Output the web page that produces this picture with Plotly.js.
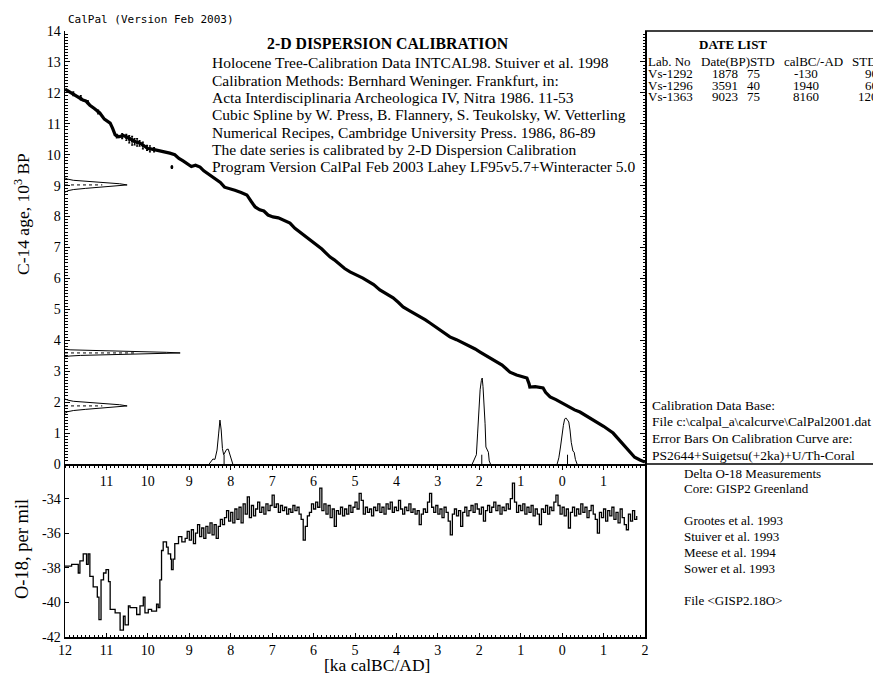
<!DOCTYPE html>
<html><head><meta charset="utf-8">
<script src="https://cdn.plot.ly/plotly-3.0.1.min.js"></script>
<style>html,body{margin:0;padding:0;background:#fff}#chart{width:873px;height:679px}</style>
</head><body><div id="chart"></div>
<script>
// ---- Calibration curve (INTCAL98), x = ka calBC (negative = AD), y = C-14 age ka BP
const calAge = [12.00,11.93,11.85,11.75,11.65,11.57,11.50,11.40,11.30,11.22,11.16,11.05,10.95,10.91,10.85,10.79,10.70,10.60,10.50,10.40,10.30,10.19,10.10,10.00,9.90,9.78,9.65,9.55,9.47,9.35,9.25,9.15,9.06,8.95,8.85,8.74,8.65,8.55,8.43,8.35,8.25,8.15,8.09,8.02,7.90,7.75,7.61,7.50,7.41,7.30,7.20,7.10,6.98,6.85,6.75,6.65,6.57,6.45,6.35,6.26,6.15,6.05,5.92,5.80,5.70,5.60,5.50,5.36,5.25,5.12,5.00,4.90,4.81,4.70,4.55,4.40,4.25,4.08,3.95,3.84,3.70,3.55,3.43,3.30,3.19,3.05,2.95,2.88,2.71,2.55,2.39,2.25,2.10,1.98,1.85,1.70,1.57,1.45,1.35,1.26,1.10,0.95,0.85,0.80,0.78,0.65,0.50,0.46,0.40,0.29,0.15,0.00,-0.19,-0.30,-0.43,-0.60,-0.80,-1.00,-1.23,-1.40,-1.55,-1.64,-1.75,-1.88,-1.95,-2.00];
const calC14 = [12.12,12.06,12.00,11.92,11.85,11.77,11.74,11.60,11.50,11.40,11.35,11.15,11.05,11.02,10.85,10.64,10.58,10.62,10.57,10.48,10.42,10.38,10.30,10.20,10.18,10.15,10.10,10.08,10.05,10.00,9.88,9.80,9.73,9.62,9.66,9.60,9.48,9.38,9.28,9.20,9.10,8.95,8.92,8.90,8.85,8.78,8.70,8.48,8.31,8.22,8.18,8.05,7.99,7.96,7.90,7.84,7.79,7.62,7.52,7.40,7.30,7.20,7.08,6.95,6.82,6.69,6.60,6.43,6.32,6.21,6.14,6.06,6.01,5.92,5.80,5.63,5.50,5.37,5.22,5.08,4.97,4.86,4.75,4.66,4.56,4.43,4.35,4.27,4.11,4.02,3.91,3.84,3.72,3.62,3.52,3.40,3.30,3.20,3.08,2.97,2.88,2.82,2.78,2.60,2.49,2.50,2.47,2.46,2.32,2.17,2.08,1.97,1.81,1.75,1.68,1.55,1.40,1.22,1.00,0.75,0.50,0.36,0.22,0.13,0.08,0.06];
// error bars on the calibration curve (older, sparser part)
const errAge = [11.80,11.62,11.45,11.20,10.75,10.62,10.52,10.45,10.38,10.32,10.26,10.20,10.12,10.02,9.95,9.85,9.42];
const errC14 = [11.97,11.84,11.70,11.38,10.60,10.60,10.56,10.50,10.45,10.42,10.40,10.37,10.30,10.22,10.19,10.16,9.60];
const errSd  = [0.06,0.07,0.05,0.06,0.06,0.08,0.10,0.12,0.14,0.10,0.12,0.09,0.11,0.08,0.10,0.07,0.04];

// ---- Date list
const labNo   = ['Vs-1292','Vs-1296','Vs-1363'];
const dateBP  = [1878, 3591, 9023];
const dateStd = [75, 40, 75];
const calBC   = [-130, 1940, 8160];
const calStd  = [90, 60, 120];

// ---- C-14 date distributions (drawn against the y axis), y in ka BP, height in ka
const d1Y = [1.653,1.691,1.728,1.766,1.803,1.841,1.878,1.916,1.953,1.991,2.028,2.066,2.103];
const d1H = [0.017,0.066,0.20,0.49,0.91,1.32,1.5,1.32,0.91,0.49,0.20,0.066,0.017];
const d2Y = [3.471,3.491,3.511,3.531,3.551,3.571,3.591,3.611,3.631,3.651,3.671,3.691,3.711];
const d2H = [0.031,0.122,0.376,0.90,1.69,2.45,2.78,2.45,1.69,0.90,0.376,0.122,0.031];
const d3Y = [8.798,8.836,8.873,8.911,8.948,8.986,9.023,9.061,9.098,9.136,9.173,9.211,9.248];
const d3H = [0.017,0.066,0.20,0.49,0.91,1.32,1.5,1.32,0.91,0.49,0.20,0.066,0.017];

// ---- Calibrated distributions (drawn against the x axis)
const c1X = [0.12,0.08,0.04,0.01,-0.03,-0.06,-0.09,-0.13,-0.16,-0.19,-0.22,-0.26,-0.29,-0.32,-0.36];
const c1H = [0,0.2,0.55,0.9,1.25,1.45,1.49,1.42,1.36,1.1,0.7,0.42,0.38,0.15,0];
const c2X = [2.17,2.13,2.10,2.07,2.04,2.01,1.98,1.95,1.93,1.91,1.88,1.86,1.84,1.81,1.78,1.76,1.73];
const c2H = [0,0.12,0.2,0.3,1.0,1.8,2.4,2.7,2.78,2.5,1.9,1.3,0.55,0.45,0.38,0.1,0];
const c3X = [8.52,8.47,8.43,8.38,8.33,8.29,8.26,8.23,8.20,8.17,8.14,8.10,8.06,8.03,7.99,7.95];
const c3H = [0,0.08,0.16,0.15,0.45,1.0,1.42,1.1,0.5,0.3,0.38,0.47,0.48,0.35,0.1,0];

// ---- GISP2 delta O-18 (per mil) vs ka calBC
const o18Age = [12.00,11.84,11.68,11.64,11.56,11.48,11.44,11.40,11.32,11.22,11.18,11.13,11.07,11.01,10.95,10.91,10.79,10.67,10.59,10.55,10.47,10.43,10.27,10.19,10.11,10.07,9.99,9.91,9.79,9.75,9.71,9.67,9.63,9.55,9.51,9.45,9.43,9.39,9.35,9.26,9.18,9.10,
9.05,9.00,8.95,8.90,8.85,8.80,8.75,8.70,8.65,8.60,8.55,8.50,8.45,8.40,8.35,8.30,8.25,8.20,8.15,8.10,8.05,8.00,7.95,7.90,7.85,7.80,7.75,7.70,7.65,7.60,7.55,7.50,7.45,7.40,7.35,7.30,7.25,7.20,7.15,7.10,7.05,7.00,6.95,6.90,6.85,6.80,6.75,6.70,6.65,6.60,6.55,6.50,6.45,6.40,6.35,6.30,6.25,6.20,6.15,6.10,6.05,6.00,
5.95,5.90,5.85,5.80,5.75,5.70,5.65,5.60,5.55,5.50,5.45,5.40,5.35,5.30,5.25,5.20,5.15,5.10,5.05,5.00,4.95,4.90,4.85,4.80,4.75,4.70,4.65,4.60,4.55,4.50,4.45,4.40,4.35,4.30,4.25,4.20,4.15,4.10,4.05,4.00,3.95,3.90,3.85,3.80,3.75,3.70,3.65,3.60,3.55,3.50,3.45,3.40,3.35,3.30,3.25,3.20,3.15,3.10,3.05,3.00,
2.95,2.90,2.85,2.80,2.75,2.70,2.65,2.60,2.55,2.50,2.45,2.40,2.35,2.30,2.25,2.20,2.15,2.10,2.05,2.00,1.95,1.90,1.85,1.80,1.75,1.70,1.65,1.60,1.55,1.50,1.45,1.40,1.35,1.30,1.25,1.20,1.15,1.10,1.05,1.00,0.95,0.90,0.85,0.80,0.75,0.70,0.65,0.60,0.55,0.50,0.45,0.40,0.35,0.30,0.25,0.20,0.15,0.10,0.05,0.00,
-0.05,-0.10,-0.15,-0.20,-0.25,-0.30,-0.35,-0.40,-0.45,-0.50,-0.55,-0.60,-0.65,-0.70,-0.75,-0.80,-0.85,-0.90,-0.95,-1.00,-1.05,-1.10,-1.15,-1.20,-1.25,-1.30,-1.35,-1.40,-1.45,-1.50,-1.55,-1.60,-1.65,-1.70,-1.75,-1.80];
const o18Val = [-37.9,-37.8,-38.3,-37.6,-37.2,-37.8,-37.2,-38.5,-39.1,-39.7,-41.0,-38.7,-38.3,-38.1,-38.8,-40.4,-40.6,-41.6,-40.8,-41.3,-40.2,-40.3,-40.7,-40.2,-39.7,-40.6,-40.4,-40.5,-40.1,-40.3,-38.7,-37.0,-36.5,-36.8,-37.2,-37.5,-38.1,-37.5,-36.6,-36.2,-36.5,-36.3,
-35.9,-36.4,-35.8,-36.6,-36.0,-35.5,-36.2,-35.7,-36.3,-35.6,-36.0,-35.4,-36.1,-35.5,-36.3,-35.6,-35.2,-35.5,-35.1,-34.7,-35.3,-34.8,-35.4,-34.6,-35.2,-34.5,-35.4,-34.3,-34.9,-33.9,-35.1,-34.4,-35.0,-34.6,-34.2,-34.8,-34.5,-34.9,-34.3,-34.7,-34.4,-33.8,-34.5,-34.3,-34.8,-34.4,-34.7,-34.5,-34.9,-34.6,-34.8,-34.4,-34.7,-34.5,-34.9,-35.2,-36.4,-35.6,-35.0,-34.8,-34.3,-34.6,
-34.2,-34.5,-33.4,-34.7,-34.3,-34.9,-34.4,-35.1,-34.6,-35.6,-34.7,-34.9,-34.5,-35.0,-34.6,-34.9,-34.4,-34.8,-34.5,-34.2,-34.6,-33.7,-34.1,-34.9,-34.5,-34.8,-34.6,-35.0,-34.5,-34.7,-34.3,-34.8,-34.5,-34.9,-34.3,-34.6,-34.2,-34.8,-34.5,-34.7,-34.1,-34.6,-34.9,-34.5,-34.7,-34.3,-34.8,-34.6,-34.9,-34.7,-35.5,-34.9,-34.6,-34.8,-34.2,-33.7,-34.5,-34.8,-34.4,-34.9,
-34.6,-35.1,-34.5,-34.8,-35.3,-36.1,-34.9,-34.6,-35.0,-34.7,-35.6,-34.8,-34.5,-35.0,-34.7,-34.4,-34.8,-34.3,-34.6,-34.9,-34.5,-35.3,-34.7,-34.4,-34.8,-34.5,-34.2,-34.7,-34.4,-34.9,-34.5,-34.7,-34.3,-34.6,-34.0,-33.1,-34.2,-34.8,-34.4,-34.7,-34.3,-34.9,-34.5,-34.8,-34.4,-35.0,-34.6,-34.9,-35.5,-34.6,-34.8,-34.4,-34.9,-34.5,-34.7,-34.2,-33.8,-34.4,-34.9,-34.5,
-35.0,-34.6,-35.7,-34.8,-34.5,-35.0,-34.6,-34.9,-34.3,-34.8,-34.5,-35.1,-34.7,-34.4,-34.9,-35.2,-36.0,-34.8,-35.1,-34.6,-35.3,-34.7,-35.0,-34.5,-35.2,-34.8,-35.4,-34.6,-35.1,-35.5,-35.8,-34.9,-35.3,-34.7,-35.2,-35.0];

// ---- Axis tick labels
const xTickVals = [12,11,10,9,8,7,6,5,4,3,2,1,0,-1,-2];
const xTickText = ['12','11','10','9','8','7','6','5','4','3','2','1','0','1','2'];
const topXTickVals = [11,10,9,8,7,6,5,4,3,2,1,0,-1];
const topXTickText = ['11','10','9','8','7','6','5','4','3','2','1','0','1'];
const c14TickVals = [0,1,2,3,4,5,6,7,8,9,10,11,12,13,14];
const o18TickVals = [-42,-40,-38,-36,-34];
const o18TickText = ['-42','-40','-38','-36','-34'];

// ---- Texts
const infoTitle = '2-D DISPERSION CALIBRATION';
const infoLines = [
 'Holocene Tree-Calibration Data INTCAL98. Stuiver et al. 1998',
 'Calibration Methods: Bernhard Weninger. Frankfurt, in:',
 'Acta Interdisciplinaria Archeologica IV, Nitra 1986. 11-53',
 'Cubic Spline by W. Press, B. Flannery, S. Teukolsky, W. Vetterling',
 'Numerical Recipes, Cambridge University Press. 1986, 86-89',
 'The date series is calibrated by 2-D Dispersion Calibration',
 'Program Version CalPal Feb 2003 Lahey LF95v5.7+Winteracter 5.0'];
const dbLines = ['Calibration Data Base:','File c:\\calpal_a\\calcurve\\CalPal2001.dat','Error Bars On Calibration Curve are:','PS2644+Suigetsu(+2ka)+U/Th-Coral'];
const o18Lines = ['Delta O-18 Measurements','Core: GISP2 Greenland','','Grootes et al. 1993','Stuiver et al. 1993','Meese et al. 1994','Sower et al. 1993','','File &lt;GISP2.18O&gt;'];

// ---------------- build ----------------
const W = 873, H = 679;
const PX = v => v / W, PY = v => 1 - v / H;
const serif = 'Liberation Serif, Times New Roman, serif';
const thin = {color:'#000', width:1};

const traces = [];
traces.push({x:calAge, y:calC14, xaxis:'x', yaxis:'y', mode:'lines', line:{color:'#000', width:3.2}, hoverinfo:'skip'});
traces.push({x:errAge, y:errC14, xaxis:'x', yaxis:'y', mode:'markers', marker:{color:'#000', size:3},
  error_y:{type:'data', array:errSd, visible:true, color:'#000', thickness:1.2, width:1}, hoverinfo:'skip'});
const base = 12; // left edge of x axis (ka calBC)
[[d1Y,d1H],[d2Y,d2H],[d3Y,d3H]].forEach(([ys,hs], i) => {
  traces.push({x:[base].concat(hs.map(h => base - h), [base]), y:[ys[0]].concat(ys, [ys[ys.length-1]]),
    xaxis:'x', yaxis:'y', mode:'lines', line:thin, hoverinfo:'skip'});
  const mu = dateBP[i]/1000, peak = Math.max(...hs);
  traces.push({x:[base, base - 0.6*peak], y:[mu, mu], xaxis:'x', yaxis:'y', mode:'lines', line:{color:'#000', width:1, dash:'dot'}, hoverinfo:'skip'});
});
[[c1X,c1H],[c2X,c2H],[c3X,c3H]].forEach(([xs,hs], i) => {
  traces.push({x:xs, y:hs, xaxis:'x', yaxis:'y', mode:'lines', line:thin, hoverinfo:'skip'});
  const m = calBC[i]/1000;
  traces.push({x:[m, m], y:[0, 0.3], xaxis:'x', yaxis:'y', mode:'lines', line:thin, hoverinfo:'skip'});
});
traces.push({x:o18Age, y:o18Val, xaxis:'x2', yaxis:'y2', mode:'lines', line:{color:'#000', width:1.3, shape:'hv'}, hoverinfo:'skip'});

const dom = [PX(65), PX(645)];
const topDom = [PY(464), PY(31)];
const botDom = [PY(637), PY(464)];
const tickFont = {family:serif, size:14, color:'#000'};

const ann = [];
const A = (text, x, y, opts={}) => ann.push(Object.assign({text, x:PX(x), y:PY(y), xref:'paper', yref:'paper', showarrow:false, xanchor:'left', yanchor:'middle', borderpad:0, font:{family:serif, size:13, color:'#000'}}, opts));
const F = s => ({family:serif, size:s, color:'#000'});
A('CalPal (Version Feb 2003)', 67, 19, {font:{family:'DejaVu Sans Mono, monospace', size:11, color:'#000'}});
A('C-14 age, 10<sup>3</sup> BP', 22, 214, {xanchor:'center', textangle:-90, font:F(17.5)});
A('O-18, per mil', 22, 549, {xanchor:'center', textangle:-90, font:F(18.5)});
A('[ka calBC/AD]', 377, 665, {xanchor:'center', font:F(17.5)});
A('<b>' + infoTitle + '</b>', 388, 44, {xanchor:'center', font:F(15.8)});
infoLines.forEach((t, i) => A(t, 211, 62.7 + i*17.35, {font:F(15.5)}));
const tf = F(13);
A('<b>DATE LIST</b>', 733, 45, {xanchor:'center', font:tf});
A('Lab. No', 647, 61, {font:tf}); A('Date(BP)STD', 700, 61, {font:tf}); A('calBC/-AD', 783, 61, {font:tf}); A('STD', 851, 61, {font:tf});
labNo.forEach((l, i) => {
  const y = 73 + i*12;
  A(l, 647, y, {font:tf});
  A(String(dateBP[i]), 725, y, {xanchor:'center', font:tf});
  A(String(dateStd[i]), 753, y, {xanchor:'center', font:tf});
  A(String(calBC[i]), 806, y, {xanchor:'center', font:tf});
  A(String(calStd[i]), 879, y, {xanchor:'right', font:tf});
});
dbLines.forEach((t, i) => A(t, 651, 405 + i*16.7, {font:F(13.5)}));
o18Lines.forEach((t, i) => { if (t) A(t, 683, 473 + i*15.9, {font:F(13)}); });

const layout = {
  width:W, height:H, margin:{l:0, r:0, t:0, b:0}, paper_bgcolor:'#fff', plot_bgcolor:'#fff', showlegend:false,
  font:{family:serif, color:'#000'},
  xaxis:{domain:dom, anchor:'y', range:[12,-2], tickmode:'array', tickvals:topXTickVals, ticktext:topXTickText,
    ticks:'outside', ticklen:4, tickwidth:1, tickcolor:'#000', showline:true, linewidth:1.5, linecolor:'#000',
    showgrid:false, zeroline:false, tickfont:tickFont,
    minor:{dtick:0.1, tick0:0, ticks:'outside', ticklen:2, tickcolor:'#000', showgrid:false}},
  xaxis3:{domain:dom, anchor:'y', overlaying:'x', side:'top', range:[12,-2], dtick:1, tick0:0, ticks:'inside', ticklen:4,
    tickcolor:'#000', showticklabels:false, showline:true, linewidth:1.5, linecolor:'#000', showgrid:false, zeroline:false,
    minor:{dtick:0.1, tick0:0, ticks:'inside', ticklen:2, tickcolor:'#000', showgrid:false}},
  yaxis:{domain:topDom, anchor:'x', range:[0,14], tickmode:'array', tickvals:c14TickVals, ticks:'inside', ticklen:5, tickcolor:'#000',
    showline:true, linewidth:1.5, linecolor:'#000', mirror:'ticks', showgrid:false, zeroline:false, tickfont:tickFont,
    minor:{dtick:0.1, tick0:0, ticks:'inside', ticklen:2.5, tickcolor:'#000', showgrid:false}},
  xaxis2:{domain:dom, anchor:'y2', range:[12,-2], tickmode:'array', tickvals:xTickVals, ticktext:xTickText,
    ticks:'inside', ticklen:4, tickcolor:'#000', showline:true, linewidth:1.5, linecolor:'#000',
    showgrid:false, zeroline:false, tickfont:tickFont,
    minor:{dtick:0.1, tick0:0, ticks:'inside', ticklen:2, tickcolor:'#000', showgrid:false}},
  yaxis2:{domain:botDom, anchor:'x2', range:[-42,-32], tickmode:'array', tickvals:o18TickVals, ticktext:o18TickText,
    ticks:'inside', ticklen:4, tickcolor:'#000', showline:true, linewidth:1.5, linecolor:'#000', mirror:true,
    showgrid:false, zeroline:false, tickfont:tickFont},
  shapes:[
    {type:'line', xref:'paper', yref:'paper', x0:PX(645), x1:1.01, y0:PY(31), y1:PY(31), line:{color:'#000', width:1.5}},
    {type:'line', xref:'paper', yref:'paper', x0:PX(645), x1:1.01, y0:PY(464), y1:PY(464), line:{color:'#000', width:1.5}}
  ],
  annotations:ann
};
Plotly.newPlot('chart', traces, layout, {staticPlot:true, displayModeBar:false});
</script></body></html>
